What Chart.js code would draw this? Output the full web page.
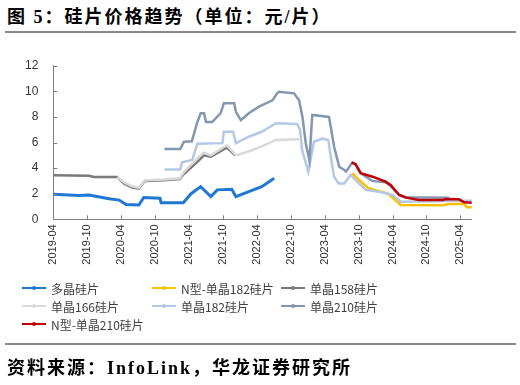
<!DOCTYPE html>
<html>
<head>
<meta charset="utf-8">
<script src="https://cdn.jsdelivr.net/npm/chart.js@4.4.1/dist/chart.umd.min.js"></script>
<style>
  body { margin: 0; background: #fff; width: 520px; height: 385px; position: relative; overflow: hidden; }
  #title { position: absolute; left: 7px; top: 2px; font: bold 18px "Liberation Serif", "Noto Sans CJK SC"; letter-spacing: 2px; color: #000; white-space: nowrap; }
  .rule { position: absolute; left: 5px; width: 511px; height: 2px; background: #8a8a8a; }
  #chartBox { position: absolute; left: 0; top: 40px; width: 520px; height: 240px; }
  #legend { position: absolute; left: 0; top: 0; width: 520px; height: 385px; pointer-events: none; }
  .item { position: absolute; height: 16px; display: flex; align-items: center; font: 12px "Noto Sans CJK SC", sans-serif; color: #404040; white-space: nowrap; }
  .swatch { position: relative; width: 24px; height: 2px; margin-right: 5px; }
  .swatch i { position: absolute; left: 10px; top: -1px; width: 4px; height: 4px; border-radius: 2px; }
  #source { position: absolute; left: 7px; top: 353px; font: bold 18px "Liberation Serif", "Noto Sans CJK SC"; letter-spacing: 2px; color: #000; white-space: nowrap; }
</style>
</head>
<body>
<div id="title">图 5：硅片价格趋势（单位：元/片）</div>
<div class="rule" style="top:31px"></div>
<div id="chartBox"><canvas id="grafico"></canvas></div>
<div id="legend"></div>
<div class="rule" style="top:343px"></div>
<div id="source">资料来源：InfoLink，华龙证券研究所</div>

<script>
// eje x: etiquetas cada 6 meses
const tickLabels = ['2019-04','2019-10','2020-04','2020-10','2021-04','2021-10',
  '2022-04','2022-10','2023-04','2023-10','2024-04','2024-10','2025-04'];

// 多晶硅片
const polyDates = ['2019-04-01','2019-08-15','2019-10-10','2020-01-27','2020-03-20','2020-04-27',
  '2020-07-05','2020-08-01','2020-10-27','2020-11-03','2021-03-01','2021-04-12','2021-06-03',
  '2021-07-27','2021-09-01','2021-11-18','2021-12-10','2022-02-18','2022-04-27','2022-07-03'];
const polyVals = [1.95,1.85,1.9,1.6,1.5,1.15,1.12,1.7,1.65,1.3,1.3,2.0,2.55,1.77,2.3,2.35,1.77,2.16,2.55,3.2];

// N型-单晶182硅片
const n182Dates = ['2023-08-27','2023-10-03','2023-11-24','2024-01-18','2024-03-09','2024-05-15',
  '2024-12-27','2025-02-01','2025-04-21','2025-05-06','2025-06-06'];
const n182Vals = [3.6,3.07,2.42,2.2,2.0,1.12,1.1,1.2,1.2,0.95,0.94];

// 单晶158硅片
const m158Dates = ['2019-04-01','2019-10-10','2019-11-06','2020-03-10','2020-04-15','2020-05-25',
  '2020-07-05','2020-08-06','2020-11-18','2021-02-12','2021-03-01','2021-05-24','2021-06-20',
  '2021-07-27','2021-10-22','2021-12-06'];
const m158Vals = [3.45,3.4,3.3,3.3,2.8,2.5,2.4,3.0,3.05,3.15,3.5,4.6,5.0,4.9,5.6,5.0];

// 单晶166硅片
const m166Dates = ['2020-03-10','2020-04-15','2020-05-25','2020-07-05','2020-08-06','2020-11-18',
  '2021-02-12','2021-03-01','2021-05-24','2021-06-20','2021-07-27','2021-10-22','2021-12-10',
  '2022-02-18','2022-04-27','2022-07-12','2022-11-15'];
const m166Vals = [3.3,2.9,2.6,2.45,3.05,3.1,3.2,3.64,4.9,5.2,5.0,5.8,5.0,5.3,5.7,6.2,6.25];

// 单晶182硅片
const m182Dates = ['2020-11-21','2021-02-15','2021-02-24','2021-04-18','2021-05-15','2021-09-28',
  '2021-10-06','2021-11-25','2021-12-10','2022-02-18','2022-04-27','2022-07-12','2022-11-05',
  '2022-11-20','2022-12-01','2023-01-04','2023-02-04','2023-03-18','2023-04-20','2023-05-03',
  '2023-05-21','2023-06-15','2023-07-15','2023-08-18','2023-08-27','2023-10-03','2023-11-09',
  '2024-01-18','2024-04-01','2024-05-15','2025-05-18','2025-06-03'];
const m182Vals = [3.9,3.9,4.45,4.63,5.9,5.95,6.84,6.84,5.94,6.45,6.84,7.5,7.45,7.0,5.4,3.72,
  6.06,6.3,6.2,4.9,3.33,2.8,2.8,3.46,3.33,2.8,2.3,2.16,1.9,1.38,1.45,1.45];

// 单晶210硅片
const m210Dates = ['2020-11-21','2021-02-15','2021-03-04','2021-04-16','2021-04-28','2021-05-13',
  '2021-06-03','2021-06-21','2021-07-01','2021-08-04','2021-09-19','2021-10-06','2021-12-01',
  '2021-12-10','2022-01-06','2022-02-18','2022-04-12','2022-06-24','2022-07-19','2022-07-28',
  '2022-10-18','2022-11-15','2022-12-03','2022-12-21','2023-01-10','2023-01-25','2023-04-24',
  '2023-05-03','2023-05-21','2023-06-18','2023-07-15','2023-07-24','2023-08-27','2023-09-15',
  '2023-10-12','2023-12-12','2024-02-24','2024-03-21','2024-05-06','2024-06-12','2025-02-01'];
const m210Vals = [5.5,5.5,6.06,6.1,6.7,7.5,8.28,8.28,7.6,7.6,8.3,9.06,9.06,8.4,7.75,8.28,8.8,
  9.3,9.84,9.97,9.84,9.3,8.0,5.9,4.6,8.15,8.0,7.23,5.67,4.1,3.85,3.72,4.42,4.3,3.6,3.0,2.9,
  2.6,1.9,1.72,1.69];

// N型-单晶210硅片
const n210Dates = ['2023-08-24','2023-09-15','2023-10-12','2023-12-15','2024-02-24','2024-03-21',
  '2024-05-06','2024-06-12','2024-08-21','2024-12-27','2025-01-15','2025-03-24','2025-04-21',
  '2025-06-06'];
const n210Vals = [4.45,4.3,3.6,3.33,2.94,2.68,1.9,1.69,1.5,1.5,1.58,1.56,1.33,1.3];

// meses desde 2019-04
function toMonth(s) {
  const [y, m, d] = s.split('-').map(Number);
  return (y - 2019) * 12 + (m - 4) + (d - 1) / 30;
}
function pts(dates, vals) {
  return dates.map((d, i) => ({ x: toMonth(d), y: vals[i] }));
}

const series = [
  { label: '多晶硅片',        dates: polyDates, vals: polyVals, color: '#1f78d4', width: 3 },
  { label: 'N型-单晶182硅片', dates: n182Dates, vals: n182Vals, color: '#ffc000', width: 2.5 },
  { label: '单晶158硅片',     dates: m158Dates, vals: m158Vals, color: '#7a7a7a', width: 2.5 },
  { label: '单晶166硅片',     dates: m166Dates, vals: m166Vals, color: '#d9d9d9', width: 2.5 },
  { label: '单晶182硅片',     dates: m182Dates, vals: m182Vals, color: '#b4c7e7', width: 2.5 },
  { label: '单晶210硅片',     dates: m210Dates, vals: m210Vals, color: '#8497b0', width: 2.5 },
  { label: 'N型-单晶210硅片', dates: n210Dates, vals: n210Vals, color: '#c00000', width: 2.5 }
];

// marcas de eje hacia dentro
const innerTicks = {
  id: 'innerTicks',
  afterDraw(chart) {
    const ctx = chart.ctx, xs = chart.scales.x, ys = chart.scales.y;
    ctx.save();
    ctx.strokeStyle = '#808080';
    ctx.lineWidth = 1;
    ctx.beginPath();
    xs.ticks.forEach(t => {
      const px = Math.round(xs.getPixelForValue(t.value)) + 0.5;
      ctx.moveTo(px, ys.bottom);
      ctx.lineTo(px, ys.bottom - 4);
    });
    ys.ticks.forEach(t => {
      const py = Math.round(ys.getPixelForValue(t.value)) + 0.5;
      ctx.moveTo(xs.left, py);
      ctx.lineTo(xs.left + 4, py);
    });
    ctx.stroke();
    ctx.restore();
  }
};

const chart = new Chart(document.getElementById('grafico'), {
  type: 'line',
  data: {
    datasets: series.map((s, i) => ({
      label: s.label,
      data: pts(s.dates, s.vals),
      borderColor: s.color,
      backgroundColor: s.color,
      borderWidth: s.width,
      pointRadius: 0,
      tension: 0,
      fill: false,
      order: series.length - i
    }))
  },
  options: {
    responsive: true,
    maintainAspectRatio: false,
    animation: false,
    layout: { padding: { left: 8.3, right: 48.3, top: 25.7, bottom: 5.7 } },
    plugins: { legend: { display: false }, tooltip: { enabled: false } },
    scales: {
      x: {
        type: 'linear',
        min: 0,
        max: 74,
        afterBuildTicks: s => { s.ticks = tickLabels.map((_, i) => ({ value: i * 6 })); },
        afterFit: s => { s.height = 55; },
        grid: { display: false, drawTicks: false },
        border: { color: '#808080', width: 1 },
        ticks: {
          autoSkip: false,
          minRotation: 90,
          maxRotation: 90,
          padding: 5,
          color: '#333',
          font: { family: 'Liberation Sans', size: 11 },
          callback: v => tickLabels[Math.round(v / 6)] || ''
        }
      },
      y: {
        min: 0,
        max: 12,
        afterFit: s => { s.width = 45; },
        grid: { display: false, drawTicks: false },
        border: { color: '#808080', width: 1 },
        ticks: {
          stepSize: 2,
          padding: 15,
          color: '#333',
          font: { family: 'Liberation Sans', size: 12 }
        }
      }
    }
  },
  plugins: [innerTicks]
});

// leyenda en rejilla de 3 columnas
const legend = document.getElementById('legend');
const colLeft = [22, 152, 281];
const rowTop = [280, 298, 316];
series.forEach((s, i) => {
  const el = document.createElement('div');
  el.className = 'item';
  el.style.left = colLeft[i % 3] + 'px';
  el.style.top = rowTop[Math.floor(i / 3)] + 'px';
  el.innerHTML = '<span class="swatch" style="background:' + s.color + '"><i style="background:' + s.color + '"></i></span>' + s.label;
  legend.appendChild(el);
});
</script>
</body>
</html>
